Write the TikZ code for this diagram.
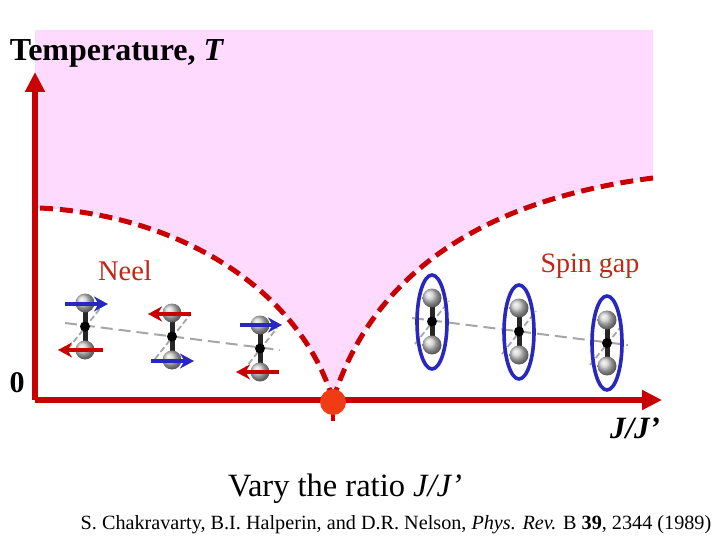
\documentclass[tikz,border=0pt]{standalone}
\usepackage{fontspec}
\setmainfont{Liberation Serif}
\usetikzlibrary{arrows.meta}
\definecolor{axred}{RGB}{200,0,0}
\definecolor{pinkbg}{RGB}{255,218,255}
\definecolor{txtred}{RGB}{190,40,20}
\definecolor{spinblue}{RGB}{40,40,190}
\definecolor{dotred}{RGB}{240,60,20}
\tikzset{
  ball/.style={circle,inner sep=0pt,minimum size=19pt,shading=ball,ball color=gray!40},
  grey dash/.style={gray!70,line width=2pt,dash pattern=on 12pt off 6pt},
  spinarrow/.style={line width=3.8pt,-{Stealth[length=14pt,width=15pt]}},
  bond/.style={line width=5pt,black!85},
  phase/.style={axred,line width=5pt,dash pattern=on 13pt off 7pt},
  dimerring/.style={spinblue,line width=3.6pt}
}
\newcommand{\dimer}[4]{% x, topy, boty, name
  \draw[gray!70,line width=1.8pt,dash pattern=on 6pt off 3pt] (#1-17,{-(#3)+1}) -- (#1+17,{-(#2)-3});
  \draw[bond] (#1,-#2) -- (#1,-#3);
  \node[ball] (#4t) at (#1,-#2) {};
  \node[ball] (#4b) at (#1,-#3) {};
  \fill (#1,{-(#2+#3)/2}) circle (5pt);
}
\begin{document}
\begin{tikzpicture}[x=1pt,y=1pt]
\useasboundingbox (0,0) rectangle (720,-540);
\fill[pinkbg] (35,-30) -- (653,-30) -- (653,-178)
  .. controls (520,-195) and (380,-250) .. (333,-400)
  .. controls (300,-290) and (180,-215) .. (40,-208) -- (35,-208) -- cycle;
\draw[phase] (653,-178) .. controls (520,-195) and (380,-250) .. (333,-400);
\draw[phase] (40,-208) .. controls (180,-215) and (300,-290) .. (333,-400);
\coordinate (o) at (35,-400);
\coordinate (ytop) at (35,-72);
\coordinate (xend) at (662,-400);
\draw[axred,line width=5.5pt,-{Triangle[length=20pt,width=19pt]}] (o) -- (ytop);
\draw[axred,line width=5.5pt,-{Triangle[length=20pt,width=19pt]}] (o) -- (xend);
\draw[axred,line width=4.5pt] (333,-402) -- (333,-421);
\node[circle,fill=dotred,minimum size=26pt,inner sep=0pt] (qcp) at (333,-402) {};
% Neel dimers
\draw[grey dash] (65,-323) -- (280,-350);
\dimer{85}{303}{350}{a}
\dimer{172}{313}{360}{b}
\dimer{260}{325}{372}{c}
\draw[spinarrow,spinblue] (65,-304) -- (108,-304);
\draw[spinarrow,axred] (103,-350) -- (58,-350);
\draw[spinarrow,axred] (191,-314) -- (148,-314);
\draw[spinarrow,spinblue] (151,-361) -- (194,-361);
\draw[spinarrow,spinblue] (240,-325) -- (282,-325);
\draw[spinarrow,axred] (279,-372) -- (236,-372);
% spin gap dimers
\draw[grey dash] (412,-318) -- (628,-345);
\dimer{432}{298}{345}{d}
\dimer{519}{308}{355}{e}
\dimer{607}{320}{366}{f}
\draw[dimerring] (432,-322) ellipse (15 and 47);
\draw[dimerring] (519,-332) ellipse (15 and 47);
\draw[dimerring] (607,-343) ellipse (15 and 47);
% texts
\node[font=\fontsize{32}{36}\selectfont\bfseries] (tt) at (117,-53) {Temperature, \textit{T}};
\node[font=\fontsize{30}{34}\selectfont\bfseries] (zero) at (17,-383) {0};
\node[font=\fontsize{28.5}{32}\selectfont,text=txtred] (neel) at (125,-271) {Neel};
\node[font=\fontsize{28}{32}\selectfont,text=txtred] (sg) at (590,-266) {Spin gap};
\node[font=\fontsize{31}{34}\selectfont\bfseries\itshape] (jj) at (635,-428) {J/J’};
\node[font=\fontsize{32.5}{36}\selectfont] (vary) at (345,-489) {Vary the ratio \textit{J/J’}};
\node[font=\fontsize{20.2}{23}\selectfont] (cite) at (396,-525) {S. Chakravarty, B.I. Halperin, and D.R. Nelson, \textit{Phys. Rev.} B \textbf{39}, 2344 (1989)};
\end{tikzpicture}
\end{document}
